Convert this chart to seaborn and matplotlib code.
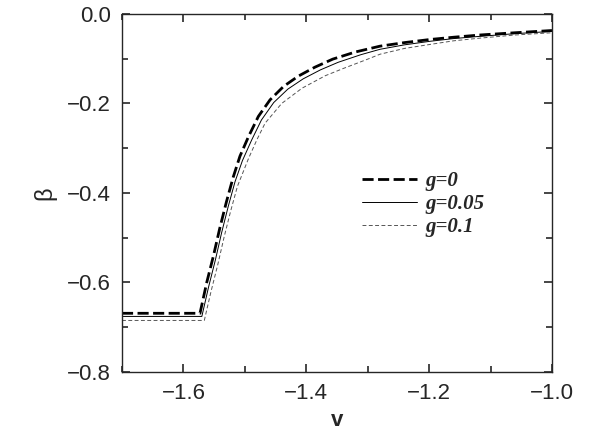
import seaborn as sns
import matplotlib.pyplot as plt
import pandas as pd
from matplotlib.ticker import MultipleLocator

# curves
v_g0 = [-1.7, -1.573, -1.562, -1.551, -1.541, -1.530, -1.519, -1.508, -1.494, -1.478, -1.459,
        -1.437, -1.413, -1.386, -1.357, -1.320, -1.280, -1.240, -1.198, -1.160, -1.117, -1.060, -1.0]
beta_g0 = [-0.669, -0.669, -0.60, -0.54, -0.48, -0.42, -0.365, -0.318, -0.274, -0.229, -0.192,
           -0.162, -0.139, -0.119, -0.101, -0.085, -0.072, -0.064, -0.057, -0.052, -0.047, -0.042, -0.037]

v_g005 = [-1.7, -1.570, -1.559, -1.548, -1.538, -1.527, -1.516, -1.504, -1.489, -1.473, -1.453,
          -1.430, -1.405, -1.377, -1.348, -1.311, -1.280, -1.240, -1.198, -1.160, -1.117, -1.060, -1.0]
beta_g005 = [-0.676, -0.676, -0.61, -0.55, -0.49, -0.43, -0.375, -0.328, -0.282, -0.237, -0.198,
             -0.168, -0.145, -0.125, -0.108, -0.091, -0.079, -0.069, -0.061, -0.055, -0.050, -0.044, -0.039]

v_g01 = [-1.7, -1.566, -1.555, -1.544, -1.534, -1.523, -1.512, -1.494, -1.480, -1.467, -1.440,
         -1.407, -1.369, -1.340, -1.300, -1.280, -1.240, -1.198, -1.160, -1.117, -1.060, -1.0]
beta_g01 = [-0.685, -0.685, -0.62, -0.56, -0.50, -0.44, -0.385, -0.323, -0.280, -0.244, -0.200,
            -0.166, -0.138, -0.122, -0.101, -0.090, -0.077, -0.068, -0.060, -0.054, -0.047, -0.042]

labels = ['g=0', 'g=0.05', 'g=0.1']

sns.set_style('ticks')
plt.rcParams['font.family'] = ['Liberation Sans', 'DejaVu Sans']

fig = plt.figure(figsize=(5.91, 4.36), dpi=100)
ax = fig.add_axes([0.2064, 0.147, 0.7276, 0.821])

series = [(v_g0, beta_g0), (v_g005, beta_g005), (v_g01, beta_g01)]
styles = [dict(color='black', lw=2.0, dashes=(4, 1.6)),
          dict(color='black', lw=0.7),
          dict(color='#555555', lw=0.7, dashes=(4, 2.5))]

for (v, b), lab, st in zip(series, labels, styles):
    df = pd.DataFrame({'v': v, 'beta': b})
    sns.lineplot(data=df, x='v', y='beta', ax=ax, sort=False, estimator=None,
                 label=lab, **st)

ax.set_xlim(-1.7, -1.0)
ax.set_ylim(-0.8, 0.0)
ax.xaxis.set_minor_locator(MultipleLocator(0.1))
ax.yaxis.set_major_locator(MultipleLocator(0.2))
ax.yaxis.set_minor_locator(MultipleLocator(0.1))
ax.set_xticks([-1.6, -1.4, -1.2, -1.0])
ax.tick_params(which='both', direction='in', top=True, right=True, labelsize=16, width=1.2)
ax.tick_params(which='major', length=6, pad=8)
ax.tick_params(which='minor', length=4)
for s in ax.spines.values():
    s.set_linewidth(1.0)

ax.set_xlabel('v', fontsize=16, fontweight='bold', labelpad=4)
ax.set_ylabel('β', fontsize=17, labelpad=8)

leg = ax.legend(loc='upper left', bbox_to_anchor=(0.535, 0.59), frameon=False,
                handlelength=2.6, handletextpad=0.4, labelspacing=0.15, borderpad=0,
                prop=dict(family='Liberation Serif', style='italic', weight='bold', size=15))

fig.savefig('out.png', dpi=100)
